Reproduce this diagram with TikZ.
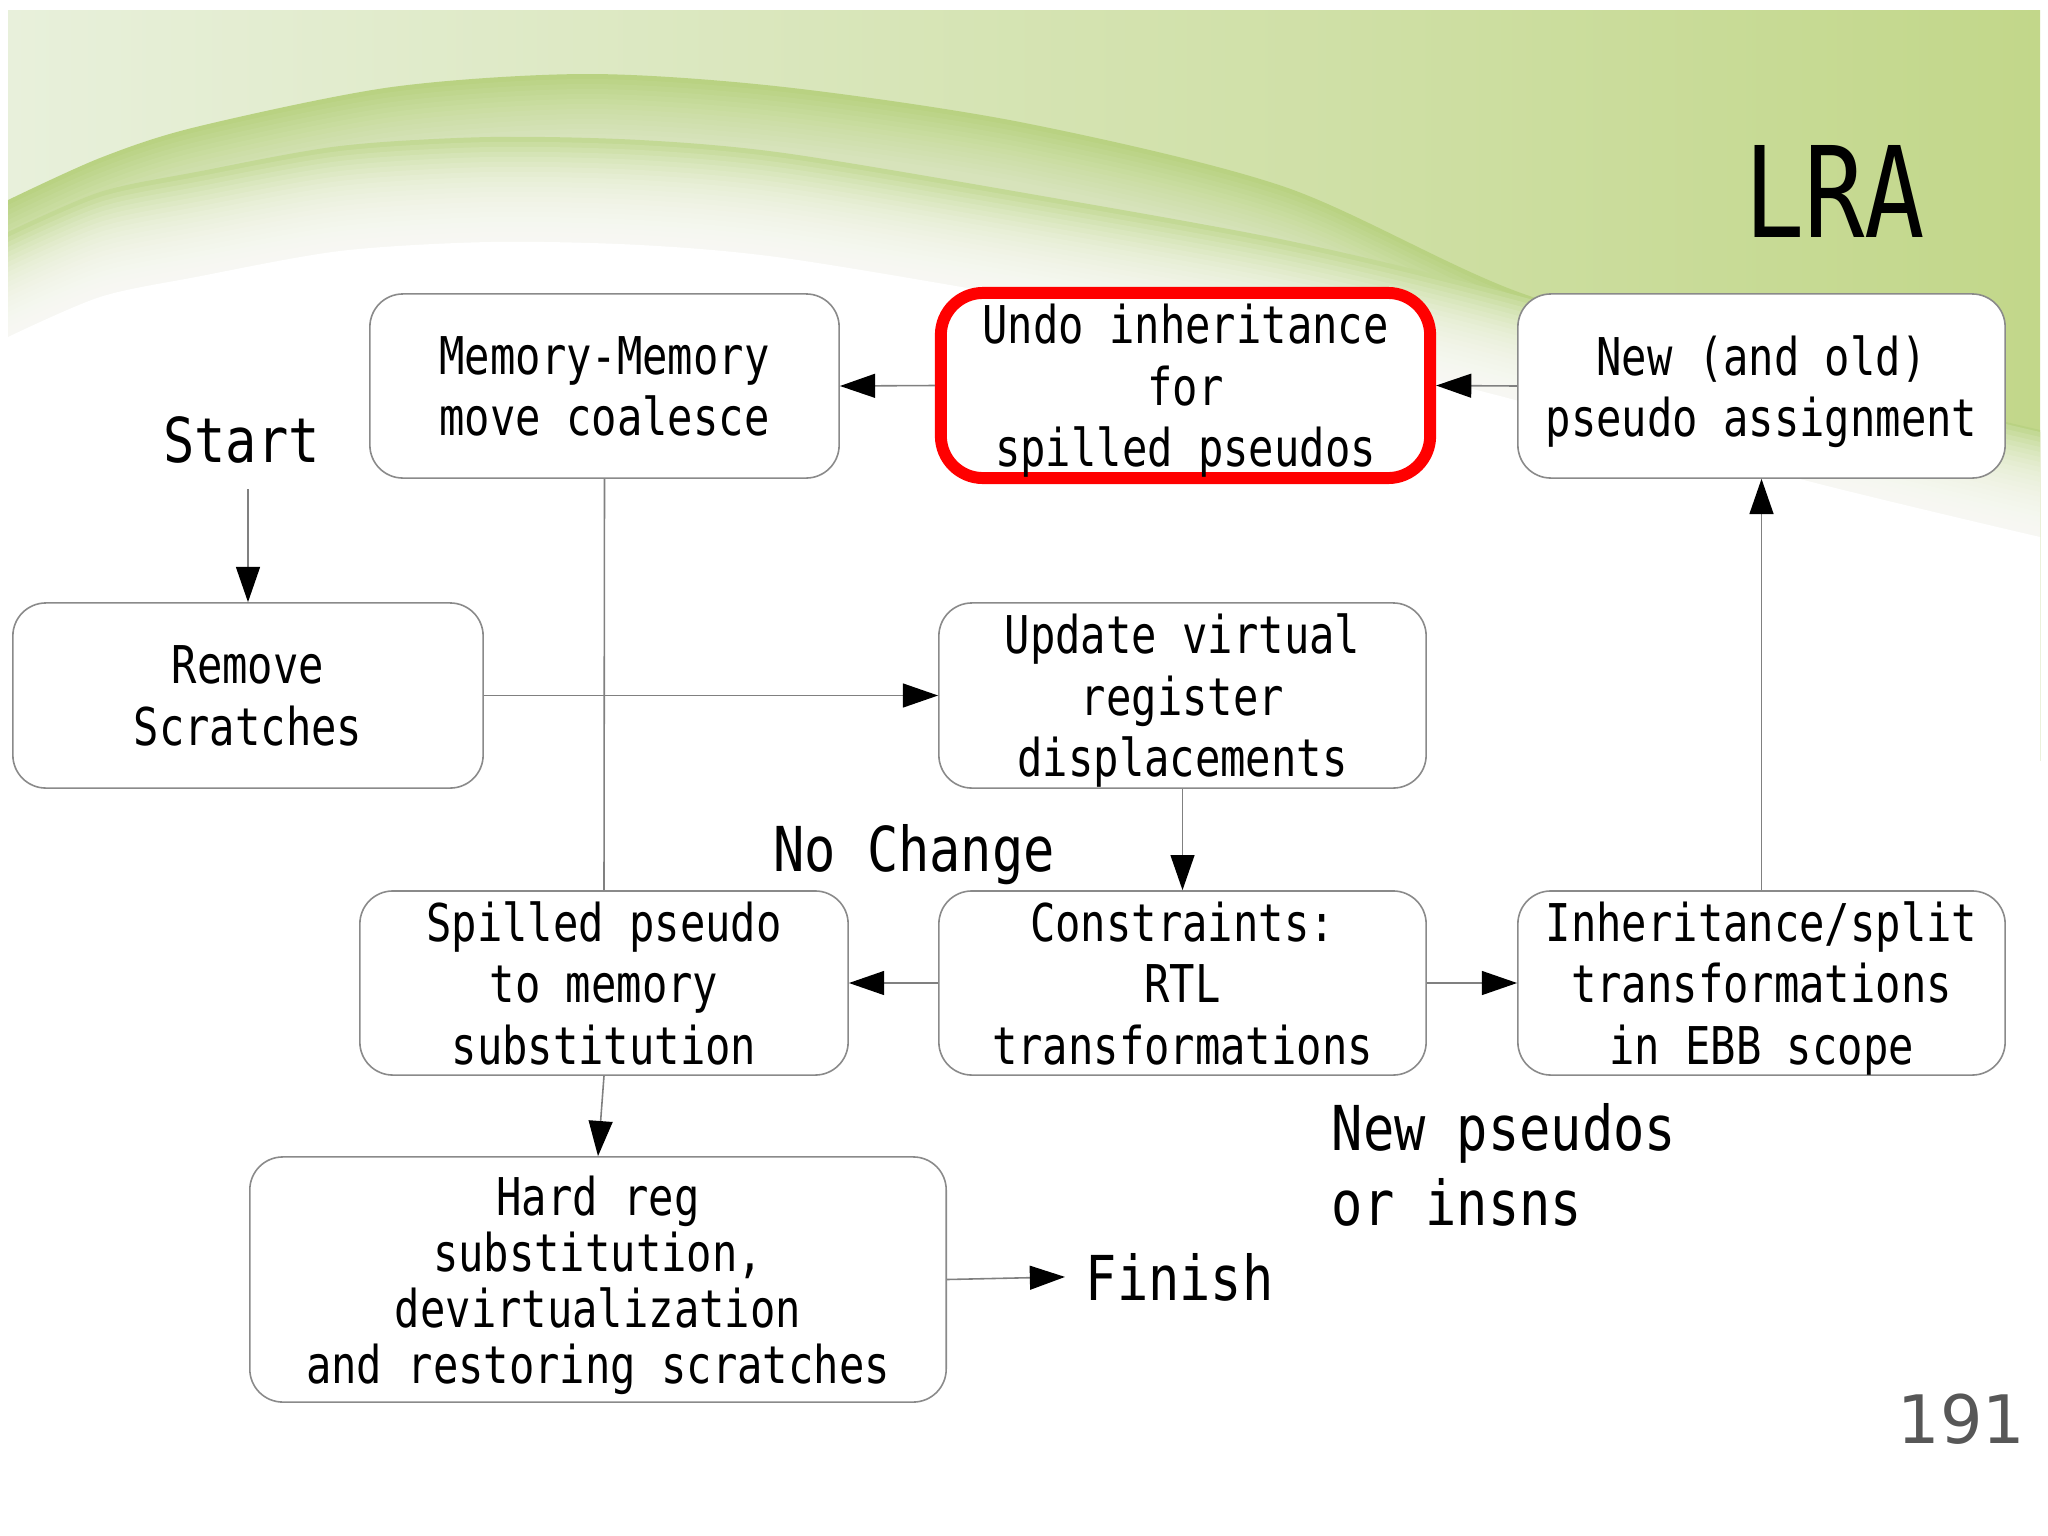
\documentclass[tikz,border=0pt]{standalone}
\usepackage{fontspec}
\usetikzlibrary{arrows.meta}
\newfontfamily\monoc[FakeStretch=0.81]{DejaVu Sans Mono}
\newfontfamily\monol[FakeStretch=0.84]{DejaVu Sans Mono}
\newfontfamily\monot[FakeStretch=0.795]{DejaVu Sans Mono}
\newfontfamily\pagefont{DejaVu Sans}
\newcommand\lastline[1]{\smash{#1}}
\definecolor{gLeft}{HTML}{E8F0DB}
\definecolor{gMid}{HTML}{D6E5B7}
\definecolor{gRight}{HTML}{C2D78A}
\definecolor{gBand}{HTML}{B9D282}
\definecolor{gInner}{HTML}{C3D995}
\definecolor{lineGray}{HTML}{808080}
\definecolor{boxGray}{HTML}{8A8A8A}
\definecolor{pageGray}{HTML}{575757}
\begin{document}
\begin{tikzpicture}[x=0.01cm,y=-0.01cm,
  box/.style={draw=boxGray, line width=0.45pt, fill=white, rounded corners=0.33cm,
    align=center, inner sep=0pt, font=\monoc\fontsize{14.8}{17.5}\selectfont},
  redbox/.style={box, draw=red, line width=3.4pt, rounded corners=0.42cm},
  lab/.style={inner sep=0pt, font=\monol\fontsize{17.6}{21.3}\selectfont},
  conn/.style={draw=lineGray, line width=0.45pt},
  arr/.style={conn, -{Triangle[length=10pt,width=6.8pt,color=black]}}
]
\useasboundingbox (0,0) rectangle (2048,1536);
\fill[white] (0,0) rectangle (2048,1536);
% ---------- background ----------
\begin{scope}
\clip (8,10) rectangle (2040,760);
\shade[left color=gLeft, middle color=gMid, right color=gRight] (8,10) rectangle (2040,760);
\fill[gBand] plot[smooth] coordinates {(8,200) (100,158) (196,127) (392,87) (588,74) (784,87) (1025,123) (1285,187) (1521,293) (1800,372) (2040,430)} -- (2040,900) -- (8,900) -- cycle;
\foreach \s in {5,10,...,60}{
  \fill[white, opacity=0.055, shift={(0,\s)}] plot[smooth] coordinates {(8,200) (100,158) (196,127) (392,87) (588,74) (784,87) (1025,123) (1285,187) (1521,293) (1800,372) (2040,430)} -- (2040,900) -- (8,900) -- cycle;
}
\fill[gInner] plot[smooth] coordinates {(8,232) (100,192) (196,172) (340,146) (490,137) (640,140) (784,153) (1025,193) (1285,240) (1500,291) (1800,374) (2040,432)} -- (2040,900) -- (8,900) -- cycle;
\foreach \s in {5,10,...,100}{
  \fill[white, opacity=0.12, shift={(0,\s)}] plot[smooth] coordinates {(8,232) (100,192) (196,172) (340,146) (490,137) (640,140) (784,153) (1025,193) (1285,240) (1500,291) (1800,374) (2040,432)} -- (2040,900) -- (8,900) -- cycle;
}
\fill[white, shift={(0,105)}] plot[smooth] coordinates {(8,232) (100,192) (196,172) (340,146) (490,137) (640,140) (784,153) (1025,193) (1285,240) (1500,291) (1800,374) (2040,432)} -- (2040,900) -- (8,900) -- cycle;
\end{scope}
% ---------- title and page number ----------
\node[anchor=base east, inner sep=0pt, font=\monot\fontsize{35.9}{40}\selectfont] (title) at (1926,237) {LRA};
\node[anchor=base east, inner sep=0pt, font=\pagefont\fontsize{19}{22}\selectfont, text=pageGray] (pagenum) at (2026,1443) {191};
% ---------- boxes ----------
\node[box, minimum width=4.69cm, minimum height=1.84cm] (mem) at (604.5,386) {Memory-Memory\\\lastline{move coalesce}};
\node[redbox, minimum width=4.89cm, minimum height=1.85cm] (undo) at (1185.5,385.5) {Undo inheritance\\for\\\lastline{spilled pseudos}};
\node[box, minimum width=4.87cm, minimum height=1.84cm] (new) at (1761.5,386) {New (and old)\\\lastline{pseudo assignment}};
\node[box, minimum width=4.70cm, minimum height=1.85cm] (remove) at (248,695.5) {Remove\\\lastline{Scratches}};
\node[box, minimum width=4.87cm, minimum height=1.85cm] (update) at (1182.5,695.5) {Update virtual\\register\\\lastline{displacements}};
\node[box, minimum width=4.88cm, minimum height=1.84cm] (spilled) at (604,983) {Spilled pseudo\\to memory\\\lastline{substitution}};
\node[box, minimum width=4.87cm, minimum height=1.84cm] (constr) at (1182.5,983) {Constraints:\\RTL\\\lastline{transformations}};
\node[box, minimum width=4.87cm, minimum height=1.84cm] (inherit) at (1761.5,983) {Inheritance/split\\transformations\\\lastline{in EBB scope}};
\node[box, font=\monoc\fontsize{14.8}{15.9}\selectfont, minimum width=6.96cm, minimum height=2.45cm] (hard) at (598,1279.5) {Hard reg\\substitution,\\devirtualization\\\lastline{and restoring scratches}};
% ---------- labels ----------
\node[lab, anchor=base] (start) at (241.5,462) {Start};
\coordinate (startout) at (248,489);
\node[lab, anchor=base] (nochange) at (914,871) {No Change};
\node[lab, anchor=base west, inner xsep=0.2cm] (finish) at (1065,1300) {Finish};
\node[lab, align=left, anchor=north west] (newps) at (1331,1103) {New pseudos\\or insns};
% ---------- connectors ----------
\draw[arr] (startout) -- (remove.north);
\draw[arr] (remove.east) -- (update.west);
\draw[arr] (update.south) -- (constr.north);
\draw[arr] (constr.west) -- (spilled.east);
\draw[arr] (constr.east) -- (inherit.west);
\draw[arr] (inherit.north) -- (new.south);
\draw[arr] (new.west) -- (undo.east);
\draw[arr] (undo.west) -- (mem.east);
\draw[conn] (mem.south) -- (spilled.north);
\draw[arr] (spilled.south) -- (hard.north);
\draw[arr] (hard.east) -- (finish.west);
\end{tikzpicture}
\end{document}
